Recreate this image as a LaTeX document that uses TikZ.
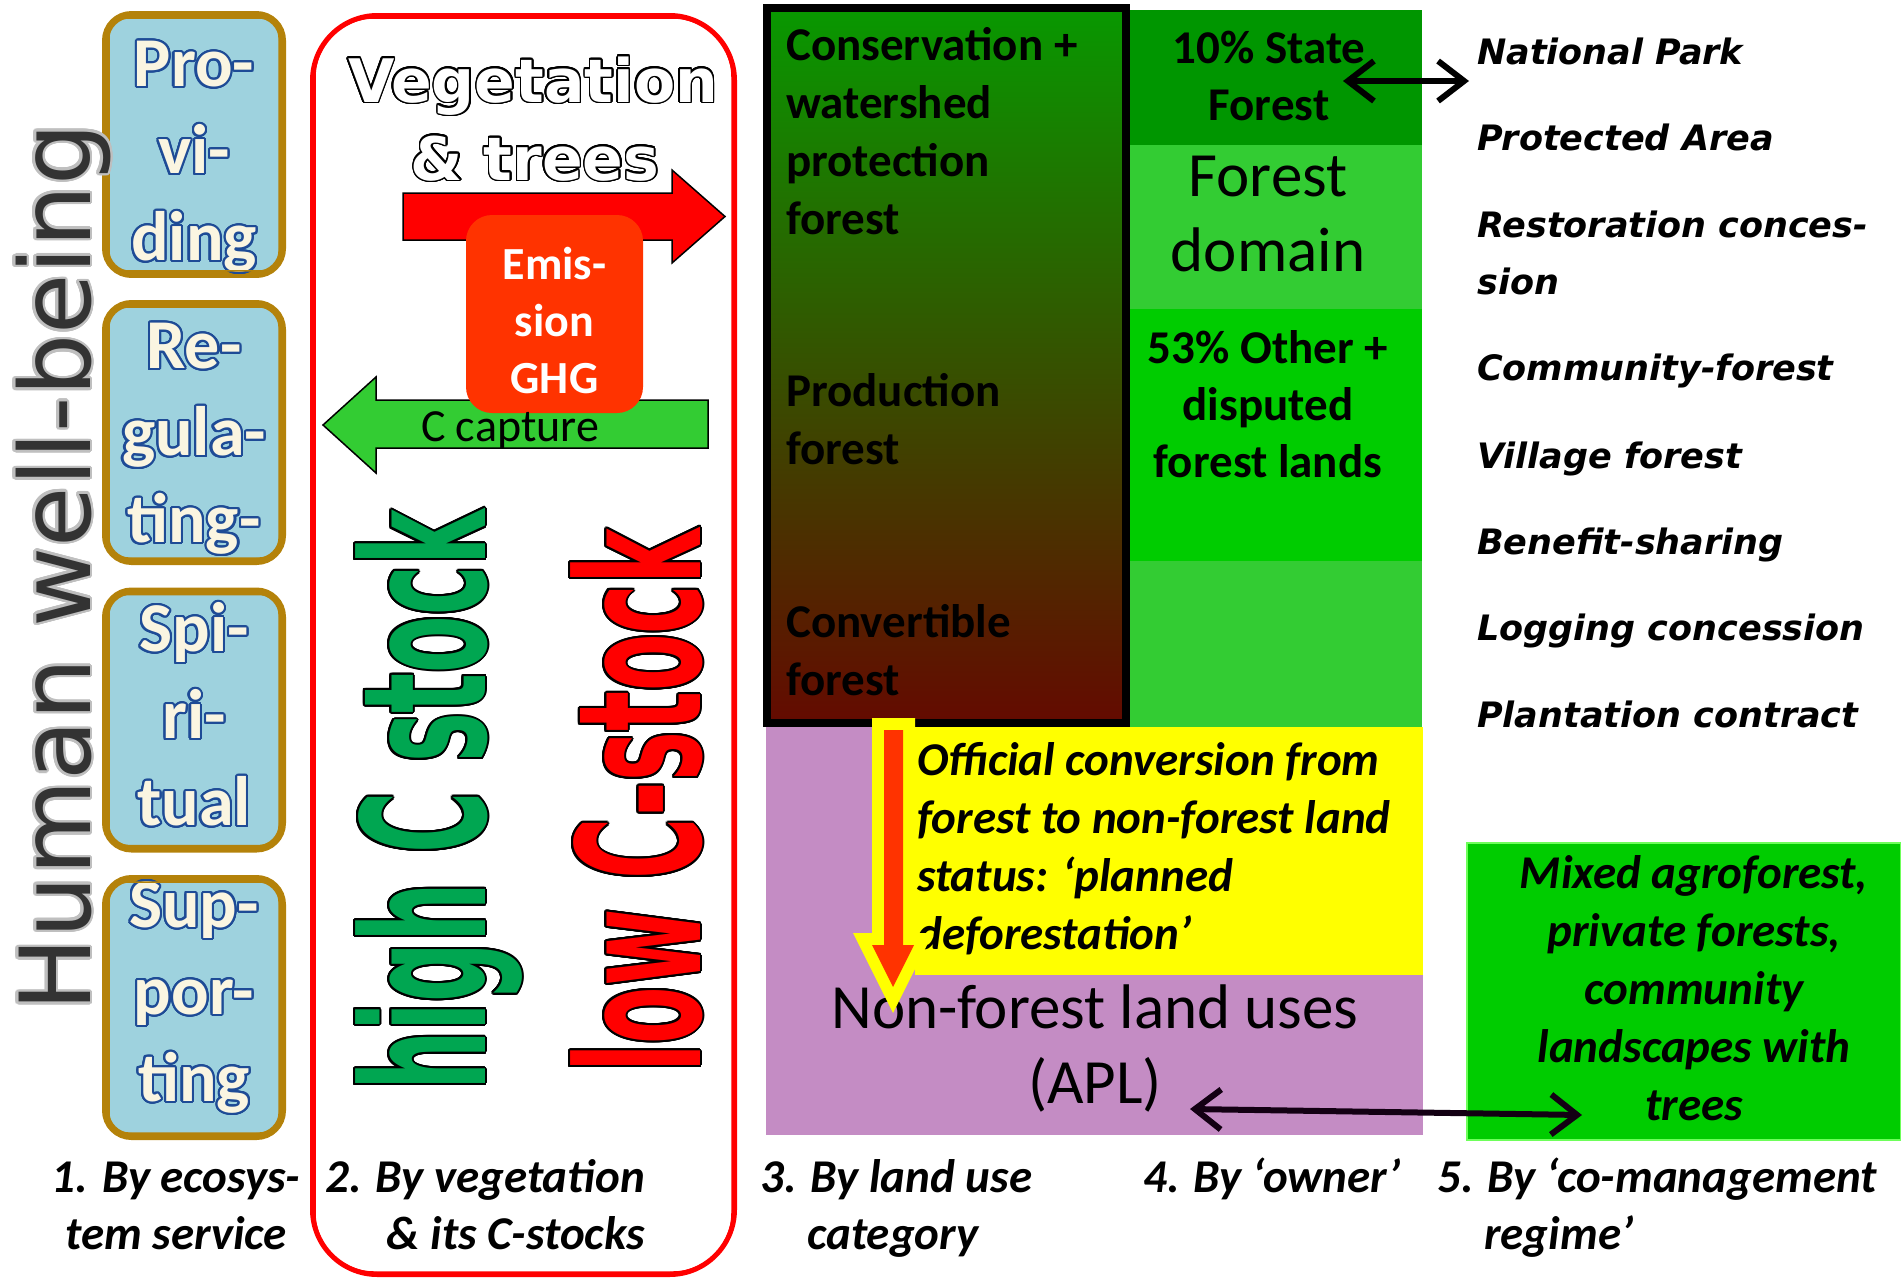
\documentclass[tikz,border=0pt]{standalone}
\usepackage{fontspec}
\setmainfont{Carlito}
\newfontfamily\dejavu{DejaVu Sans}
\usepackage{contour}
\contournumber{24}
\usetikzlibrary{arrows.meta}
\definecolor{boxblue}{RGB}{158,210,222}
\definecolor{boxgold}{RGB}{180,130,10}
\definecolor{textcream}{RGB}{250,245,225}
\definecolor{textblue}{RGB}{30,75,150}
\definecolor{emisred}{RGB}{255,51,0}
\definecolor{capgreen}{RGB}{51,204,51}
\definecolor{stockgreen}{RGB}{0,166,81}
\definecolor{darkgreen}{RGB}{0,150,0}
\definecolor{lightgreen}{RGB}{51,204,51}
\definecolor{brightgreen}{RGB}{0,204,0}
\definecolor{gradtop}{RGB}{8,152,0}
\definecolor{gradbot}{RGB}{100,10,0}
\definecolor{aplpurple}{RGB}{196,140,196}
\definecolor{convyellow}{RGB}{255,255,0}
\definecolor{mixborder}{RGB}{110,255,90}
\newcommand{\svc}[1]{\contour{textblue}{#1}}
\begin{document}
\begin{tikzpicture}[x=1pt, y=-1pt,
  svcbox/.style={draw=boxgold, line width=7pt, fill=boxblue, rounded corners=26pt, minimum width=177pt, minimum height=258pt, inner sep=0pt, align=center, text=textcream, font=\fontsize{70}{87}\selectfont\bfseries},
  svcring/.style={draw=boxgold, line width=1.5pt, rounded corners=19pt},
  vegframe/.style={draw=red, line width=5pt, rounded corners=65pt, minimum width=422pt, minimum height=1259pt, inner sep=0pt},
  vegring/.style={draw=red, line width=1.5pt, rounded corners=59pt},
  vegtitle/.style={font=\dejavu\bfseries\fontsize{60}{70}\selectfont, text=white, inner sep=0pt, anchor=base},
  blockarr/.style={draw=black, line width=1.5pt},
  emisbox/.style={fill=emisred, rounded corners=26pt, minimum width=177pt, minimum height=198pt, align=center, text=white, font=\fontsize{46}{57}\selectfont\bfseries},
  stocklbl/.style={rotate=90, anchor=base west, inner sep=0pt, font=\dejavu\bfseries\fontsize{171}{180}\selectfont},
  catlbl/.style={font=\fontsize{47}{57}\selectfont\bfseries\itshape, inner sep=0pt},
  landbox/.style={draw=black, line width=8pt, top color=gradtop, bottom color=gradbot, minimum width=359pt, minimum height=715pt, inner sep=0pt},
  landlbl/.style={font=\fontsize{47}{58}\selectfont\bfseries, align=left, anchor=base west, inner sep=0pt},
  owncell/.style={minimum width=292pt, inner sep=0pt},
  ownlbl/.style={font=\fontsize{47}{57}\selectfont\bfseries, align=center, anchor=base, inner sep=0pt},
  bigtxt/.style={font=\fontsize{63}{75}\selectfont, align=center, anchor=base, inner sep=0pt},
  convlbl/.style={font=\fontsize{47}{58}\selectfont\bfseries\itshape, align=left, anchor=base west, inner sep=0pt},
  regimelbl/.style={font=\dejavu\bfseries\itshape\fontsize{35}{57}\selectfont, align=left, anchor=base west, inner sep=0pt},
  mixcell/.style={fill=brightgreen, draw=mixborder, line width=2pt, minimum width=434pt, minimum height=297pt, inner sep=0pt},
  mixlbl/.style={font=\fontsize{47}{58}\selectfont\bfseries\itshape, align=center, anchor=base, inner sep=0pt},
  dblarr/.style={line width=6pt, arrows={Straight Barb[length=26pt,width=40pt]-Straight Barb[length=26pt,width=40pt]}}]
  \useasboundingbox (0,0) rectangle (1901,1280);
  % land use categories and owners
  \node[fill=aplpurple, minimum width=657pt, minimum height=408pt, inner sep=0pt] (apl) at (1094.5,931) {};
  \node[landbox] (landcat) at (946.5,365.5) {};
  \node[owncell, fill=darkgreen, minimum height=135pt] (state) at (1276,77.5) {};
  \node[owncell, fill=lightgreen, minimum height=164pt] (fdom) at (1276,227) {};
  \node[owncell, fill=brightgreen, minimum height=252pt] (other) at (1276,435) {};
  \node[owncell, fill=lightgreen, minimum height=166pt] (rest) at (1276,644) {};
  \node[fill=convyellow, minimum width=508pt, minimum height=248pt, inner sep=0pt] (convc) at (1169,851) {};
  \node[landlbl] (cons) at (786,234) {Conservation +\\watershed\\protection\\forest};
  \node[landlbl] (prod) at (786,464) {Production\\forest};
  \node[landlbl] (conv) at (786,695) {Convertible\\forest};
  \node[ownlbl] (statet) at (1269,120) {10\% State\\Forest};
  \node[bigtxt] (fdomt) at (1268,271) {Forest\\domain};
  \node[ownlbl] (othert) at (1268,477) {53\% Other +\\disputed\\forest lands};
  \node[convlbl] (convt) at (917,949) {Official conversion from\\forest to non-forest land\\status: ‘planned\\deforestation’};
  \node[bigtxt] (aplt) at (1095,1103) {Non-forest land uses\\(APL)};
  % planned deforestation arrow
  \fill[convyellow] (872,718) -- (915,718) -- (915,933) -- (933,933) -- (893,1013) -- (853,933) -- (872,933) -- cycle;
  \fill[emisred] (884,730) -- (903,730) -- (903,945) -- (914,945) -- (893,987) -- (872,945) -- (884,945) -- cycle;
  % co-management regimes
  \node[mixcell] (mix) at (1684,991.5) {};
  \node[mixlbl] (mixt) at (1694,1120) {Mixed agroforest,\\private forests,\\community\\landscapes with\\trees};
  \node[regimelbl] (np) at (1477,64) {National Park};
  \node[regimelbl] (pa) at (1477,150) {Protected Area};
  \node[regimelbl] (rc) at (1477,294) {Restoration conces-\\sion};
  \node[regimelbl] (cf) at (1477,380) {Community-forest};
  \node[regimelbl] (vf) at (1477,468) {Village forest};
  \node[regimelbl] (bs) at (1477,554) {Benefit-sharing};
  \node[regimelbl] (lc) at (1477,640) {Logging concession};
  \node[regimelbl] (pc) at (1477,727) {Plantation contract};
  \coordinate (sfpt) at (1343,81);
  \coordinate (nppt) at (1469,81);
  \coordinate (aplpt) at (1190,1109);
  \coordinate (mixpt) at (1582,1115);
  \draw[dblarr] (sfpt) -- (nppt);
  \draw[dblarr, black!85!violet] (aplpt) -- (mixpt);
  % ecosystem services
  \node[svcbox] (prov) at (194,144.5) {\rule{0pt}{72pt}\svc{Pro-}\\\svc{vi-}\\\svc{ding}};
  \node[svcbox] (regu) at (194,432.5) {\rule{0pt}{60pt}\svc{Re-}\\\svc{gula-}\\\svc{ting-}};
  \node[svcbox] (spir) at (194,720) {\svc{Spi-}\\\svc{ri-}\\\svc{tual}\rule[-12pt]{0pt}{12pt}};
  \node[svcbox] (supp) at (194,1007.5) {\svc{Sup-}\\\svc{por-}\\\svc{ting}\rule[-32pt]{0pt}{32pt}};
  \draw[svcring] ([shift={(7pt,7pt)}]prov.south west) rectangle ([shift={(-7pt,-7pt)}]prov.north east);
  \draw[svcring] ([shift={(7pt,7pt)}]regu.south west) rectangle ([shift={(-7pt,-7pt)}]regu.north east);
  \draw[svcring] ([shift={(7pt,7pt)}]spir.south west) rectangle ([shift={(-7pt,-7pt)}]spir.north east);
  \draw[svcring] ([shift={(7pt,7pt)}]supp.south west) rectangle ([shift={(-7pt,-7pt)}]supp.north east);
  \node[rotate=90, anchor=base west, inner sep=0pt, text=black!80, font=\dejavu\fontsize{98}{100}\selectfont] (human) at (90,1012) {\contourlength{2.5pt}\contour{gray!50}{Human well-being}};
  % vegetation and carbon
  \node[vegframe] (vegfr) at (523.5,645) {};
  \draw[vegring] ([shift={(5pt,5pt)}]vegfr.south west) rectangle ([shift={(-5pt,-5pt)}]vegfr.north east);
  \node[vegtitle] (vegt) at (533,102) {\contourlength{1.5pt}\contour{black}{Vegetation}};
  \node[vegtitle] (trees) at (535,180) {\contourlength{1.5pt}\contour{black}{\&~trees}};
  \draw[blockarr, fill=red] (403,193) -- (672,193) -- (672,170) -- (725,216.5) -- (672,263) -- (672,240) -- (403,240) -- cycle;
  \draw[blockarr, fill=capgreen] (708,400) -- (376,400) -- (376,377) -- (323,425) -- (376,473) -- (376,448) -- (708,448) -- cycle;
  \node[emisbox] (emis) at (554.5,314) {\rule{0pt}{46pt}Emis-\\sion\\GHG};
  \node[anchor=base, inner sep=0pt, font=\fontsize{46}{57}\selectfont] (ccap) at (510,441) {C capture};
  \node[stocklbl, text=stockgreen] (high) at (485,1091) {\contourlength{2pt}\contour{black}{\scalebox{0.49}[1]{high C stock}}};
  \node[stocklbl, text=red] (low) at (700,1073) {\contourlength{2pt}\contour{black}{\scalebox{0.49}[1]{low C-stock}}};
  % dimensions
  \node[catlbl, align=center, anchor=base] (lbl1) at (176,1249) {1. By ecosys-\\tem service};
  \node[catlbl, align=right, anchor=base east] (lbl2) at (645,1249) {2. By vegetation\\\& its C-stocks};
  \node[catlbl, align=left, anchor=base west] (lbl3) at (760,1249) {3. By land use\\\phantom{3.~}category};
  \node[catlbl, anchor=base west] (lbl4) at (1143,1192) {4. By ‘owner’};
  \node[catlbl, align=left, anchor=base west] (lbl5) at (1437,1249) {5. By ‘co-management\\\phantom{5.~}regime’};
\end{tikzpicture}
\end{document}
